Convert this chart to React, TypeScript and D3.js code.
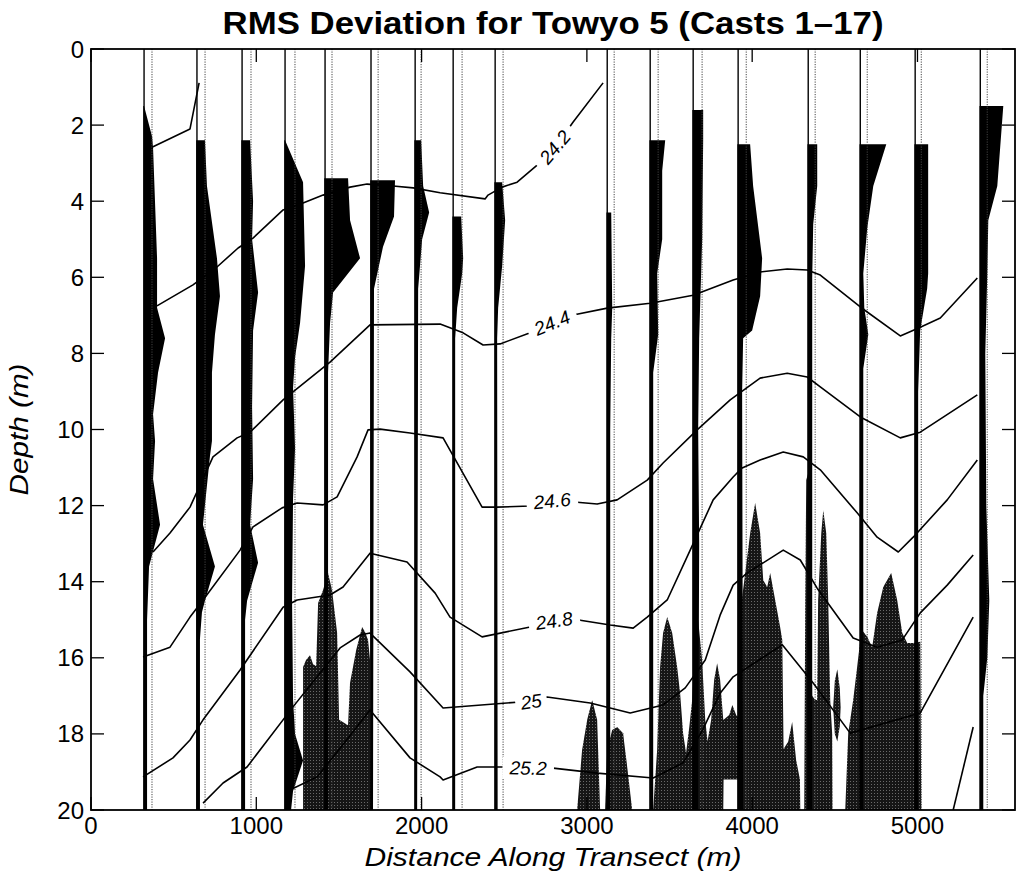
import React from 'react';
import * as d3 from 'd3';

const W = 1016;
const H = 875;

// Cast positions (m): solid baseline of each RMS profile and dotted reference line
const castDist = [321, 641, 914, 1174, 1416, 1694, 1961, 2191, 2445, 3123, 3383, 3643, 3915, 4339, 4654, 4986, 5380];
const refDist = [369, 690, 968, 1234, 1458, 1737, 1997, 2245, 2493, 3165, 3431, 3697, 3964, 4381, 4696, 5023, 5422];

// RMS deviation profiles: [depth (m), rms (arb. units)]
const rmsProfiles: [number, number][][] = [
  [[1.5, 0], [2.3, 8], [2.6, 9], [5.5, 13], [6.8, 13], [7.6, 21], [8.5, 14], [9.6, 9], [10.3, 11], [11.3, 9], [12.5, 16], [13.2, 9], [13.6, 5], [15, 3], [20, 3]],
  [[2.4, 8], [3.6, 10], [5.5, 20], [6.5, 23], [7.5, 18], [8.5, 15], [10.3, 15], [10.7, 13], [12.5, 6], [13.6, 18], [14.5, 8], [14.8, 5], [15.5, 3], [20, 3]],
  [[2.4, 8], [4.0, 11], [5.0, 10], [6.4, 16], [7.4, 11], [9.4, 10], [11.3, 11], [12.5, 8], [13.5, 16], [14.5, 5], [15, 3], [20, 3]],
  [[2.4, 0], [3.5, 18], [5.7, 20], [7.2, 15], [8.1, 10], [8.9, 8], [10.5, 10], [11.8, 8], [14.5, 7], [17.1, 8], [18.0, 10], [18.7, 18], [19.5, 8], [20, 6]],
  [[3.4, 23], [4.5, 25], [5.5, 35], [6.4, 8], [7.2, 5], [8.5, 3], [20, 3]],
  [[3.45, 24], [4.4, 23], [5.2, 12], [6.3, 3], [20, 2]],
  [[2.4, 6], [3.6, 8], [4.3, 14], [5.0, 7], [6.3, 3], [20, 2]],
  [[4.4, 8], [5.5, 10], [5.9, 9], [6.8, 4], [7.6, 2], [20, 2]],
  [[3.5, 7], [4.5, 10], [5.7, 7], [6.8, 3], [7.6, 2], [20, 2.5]],
  [[4.3, 4], [6.8, 5], [7.6, 4], [10, 3], [20, 3]],
  [[2.4, 15], [3.2, 12], [5.0, 12], [5.9, 7], [7.5, 8], [8.5, 3], [20, 3]],
  [[1.6, 10], [2.4, 10], [5, 9], [7.6, 6], [10, 5], [13, 6], [20, 5]],
  [[2.5, 12], [3.6, 15], [5.5, 24], [6.5, 22], [7.4, 14], [7.6, 5], [9, 4], [20, 5]],
  [[2.5, 9], [3.6, 9], [4.6, 5], [6, 4], [20, 4]],
  [[2.5, 26], [3.6, 13], [4.7, 7], [5.9, 3], [6.8, 4], [7.5, 8], [8.4, 3], [20, 3]],
  [[2.5, 13], [5.9, 13], [6.3, 12], [7.4, 5], [9, 3], [20, 3]],
  [[1.5, 23], [3.6, 17], [4.5, 8], [5.9, 7], [8, 5], [12, 6], [14.5, 9], [16, 7], [17, 3], [20, 3]],
];
const rmsUnitMeters = 6.05;

// Large near-bottom deviations (stippled): [distance (m), top depth, bottom depth]
const deepPatch1: [number, number, number][] = [
  [1283, 20, 20], [1283, 16.24, 20], [1301, 16.06, 20], [1325, 15.93, 20], [1343, 16.16, 20], [1362, 16.22, 20],
  [1374, 14.56, 20], [1404, 14.22, 20], [1434, 13.77, 20], [1458, 14.22, 20], [1489, 15.35, 20], [1501, 17.63, 20],
  [1555, 17.77, 20], [1567, 16.66, 20], [1604, 15.8, 20], [1640, 15.19, 20], [1658, 15.32, 20], [1676, 15.53, 20],
  [1688, 16.06, 20], [1694, 20, 20],
];
const deepPatch2: [number, number, number][] = [
  [2941, 20, 20], [2971, 18.42, 20], [3002, 17.63, 20], [3032, 17.11, 20], [3062, 17.63, 20], [3068, 18.42, 20], [3080, 20, 20],
];
const deepPatch3: [number, number, number][] = [
  [3110, 20, 20], [3123, 18.42, 20], [3153, 17.9, 20], [3183, 17.82, 20], [3219, 17.98, 20], [3244, 18.87, 20], [3274, 20, 20],
];
const deepPatch4: [number, number, number][] = [
  [3401, 20, 20], [3425, 18.42, 20], [3443, 16.24, 20], [3461, 15.35, 20], [3486, 14.93, 20], [3516, 15.35, 20],
  [3546, 16.24, 20], [3564, 16.93, 20], [3582, 17.98, 20], [3600, 18.5, 20], [3620, 17.8, 20], [3637, 17.11, 20],
  [3655, 15.53, 20], [3673, 15.0, 20], [3697, 16.06, 20], [3716, 17.63, 20], [3730, 18.2, 20], [3752, 17.63, 20],
  [3770, 16.58, 20], [3788, 16.14, 20], [3806, 16.58, 20], [3825, 17.63, 20], [3827, 17.63, 19.2], [3861, 17.5, 19.2],
  [3880, 17.24, 19.2], [3903, 17.5, 19.2], [3925, 17.6, 19.2], [3927, 14.82, 20], [3958, 13.77, 20], [3988, 12.72, 20],
  [4018, 11.93, 20], [4048, 12.72, 20], [4067, 13.96, 20], [4091, 14.14, 20], [4109, 13.77, 20], [4139, 14.48, 20],
  [4169, 15.19, 20], [4182, 15.53, 20], [4190, 18.4, 20], [4218, 18.2, 20], [4242, 17.69, 20], [4266, 18.69, 20],
  [4289, 19.2, 20], [4291, 20, 20],
];
const deepPatch5: [number, number, number][] = [
  [4315, 20, 20], [4321, 14.48, 20], [4327, 11.33, 20], [4345, 11.06, 20], [4357, 14.48, 20], [4363, 17, 20],
  [4381, 17.11, 20], [4393, 17.11, 20], [4399, 14.48, 20], [4418, 12.72, 20], [4430, 12.12, 20], [4448, 12.72, 20],
  [4460, 14.48, 20], [4472, 17.11, 20], [4484, 18.0, 20], [4486, 20, 20],
];
const deepPatch6: [number, number, number][] = [
  [4490, 17.3, 17.3], [4500, 16.6, 18.0], [4515, 16.3, 18.2], [4530, 16.8, 17.8], [4535, 17.3, 17.3],
];
const deepPatch7: [number, number, number][] = [
  [4563, 20, 20], [4581, 17.98, 20], [4611, 17.11, 20], [4635, 16.24, 20], [4654, 15.53, 20], [4670, 15.3, 20],
  [4696, 15.45, 20], [4726, 15.72, 20], [4756, 14.82, 20], [4793, 14.14, 20], [4841, 13.77, 20], [4877, 14.48, 20],
  [4908, 15.35, 20], [4938, 15.61, 20], [4974, 15.61, 20], [5017, 15.58, 20], [5023, 20, 20],
];
const deepPatches = [deepPatch1, deepPatch2, deepPatch3, deepPatch4, deepPatch5, deepPatch6, deepPatch7];

// Isopycnal contours: [distance (m), depth (m)]
const contour240: [number, number][] = [[369, 2.58], [599, 2.1], [654, 0.89]];
const contour242: [number, number][] = [
  [399, 6.75], [617, 6.2], [762, 5.73], [890, 5.23], [980, 4.97], [1162, 4.23], [1283, 4.05], [1404, 3.84],
  [1567, 3.63], [1670, 3.55], [1828, 3.6], [1949, 3.65], [2112, 3.78], [2384, 3.94], [2402, 3.84], [2487, 3.63],
  [2578, 3.5], [2699, 3.05], [2808, 2.58], [2917, 1.92], [3098, 0.89],
];
const contour244: [number, number][] = [
  [375, 13.22], [478, 12.72], [599, 12.04], [738, 10.72], [884, 10.22], [962, 10.07], [1162, 9.22], [1446, 8.23],
  [1688, 7.25], [2112, 7.23], [2251, 7.46], [2372, 7.78], [2475, 7.75], [2657, 7.46], [2790, 7.2], [2917, 6.99],
  [3123, 6.81], [3383, 6.68], [3643, 6.47], [3885, 6.07], [4048, 5.86], [4212, 5.78], [4333, 5.81], [4412, 5.94],
  [4654, 6.78], [4896, 7.54], [5017, 7.31], [5138, 7.07], [5362, 6.02],
];
const contour246: [number, number][] = [
  [315, 15.98], [478, 15.72], [599, 14.93], [678, 14.48], [902, 13.17], [980, 12.56], [1156, 12.06], [1247, 11.93],
  [1404, 11.98], [1489, 11.77], [1610, 10.72], [1676, 10.01], [1749, 9.99], [1930, 10.09], [2130, 10.22],
  [2366, 12.04], [2457, 12.04], [2657, 12.01], [2790, 11.88], [2941, 11.91], [3062, 11.96], [3183, 11.85],
  [3365, 11.33], [3461, 10.88], [3667, 10.01], [3867, 9.22], [4048, 8.65], [4212, 8.52], [4333, 8.62], [4412, 8.88],
  [4654, 9.67], [4896, 10.22], [5017, 10.07], [5362, 9.09],
];
const contour248: [number, number][] = [
  [315, 19.13], [496, 18.63], [599, 18.16], [678, 17.63], [902, 16.32], [1162, 14.67], [1247, 14.48], [1446, 14.35],
  [1525, 14.14], [1688, 13.25], [1912, 13.48], [2082, 14.3], [2172, 14.93], [2366, 15.45], [2657, 15.19],
  [2802, 15.03], [2941, 15.0], [3141, 15.14], [3280, 15.22], [3365, 14.93], [3486, 14.48], [3625, 13.17],
  [3764, 11.85], [3885, 11.25], [3939, 11.01], [4048, 10.8], [4188, 10.59], [4309, 10.72], [4412, 11.06],
  [4635, 12.19], [4756, 12.83], [4884, 13.22], [4974, 12.83], [5180, 11.85], [5362, 10.8],
];
const contour250: [number, number][] = [
  [678, 19.82], [799, 19.29], [944, 18.87], [1222, 17.29], [1507, 15.74], [1628, 15.4], [1688, 15.35], [1930, 16.37],
  [2130, 17.32], [2596, 17.16], [2663, 17.16], [2759, 17.03], [3020, 17.19], [3262, 17.45], [3461, 17.24],
  [3595, 16.79], [3716, 16.06], [3806, 14.88], [3885, 14.09], [3970, 13.77], [4188, 13.17], [4291, 13.43],
  [4393, 14.17], [4611, 15.48], [4756, 15.72], [4908, 15.53], [5017, 14.82], [5180, 14.09], [5337, 13.3],
];
const contour252: [number, number][] = [
  [1216, 19.45], [1368, 19.13], [1537, 18.21], [1688, 17.37], [1930, 18.63], [2112, 19.13], [2130, 19.21],
  [2336, 18.87], [2517, 18.87], [2645, 18.9], [2796, 18.9], [3062, 19.03], [3401, 19.16], [3582, 18.76],
  [3700, 17.9], [3806, 16.93], [3885, 16.5], [4182, 15.66], [4369, 16.66], [4593, 17.98], [5017, 17.45], [5337, 14.93],
];
const contour254: [number, number][] = [[5216, 20], [5337, 17.82]];
const contours = [contour240, contour242, contour244, contour246, contour248, contour250, contour252, contour254];

const contourLabels: { text: string; line: [number, number][]; dist: number }[] = [
  { text: '24.2', line: contour242, dist: 2808 },
  { text: '24.4', line: contour244, dist: 2790 },
  { text: '24.6', line: contour246, dist: 2790 },
  { text: '24.8', line: contour248, dist: 2802 },
  { text: '25', line: contour250, dist: 2663 },
  { text: '25.2', line: contour252, dist: 2645 },
];

const xTicks = [0, 1000, 2000, 3000, 4000, 5000];
const yTicks = [0, 2, 4, 6, 8, 10, 12, 14, 16, 18, 20];

const FONT = "'Liberation Sans', Arial, Helvetica, sans-serif";

function interp(line: [number, number][], d: number): number {
  for (let i = 0; i < line.length - 1; i++) {
    const [a, da] = line[i];
    const [b, db] = line[i + 1];
    if (d >= a && d <= b) return b === a ? da : da + ((d - a) / (b - a)) * (db - da);
  }
  return line[line.length - 1][1];
}

export default function App() {
  const x = d3.scaleLinear().domain([0, 5590]).range([91, 1015]);
  const y = d3.scaleLinear().domain([0, 20]).range([49, 810]);
  const x0 = x.range()[0], x1 = x.range()[1];
  const y0 = y.range()[0], y1 = y.range()[1];
  const tick = 13;

  const patchArea = d3
    .area<[number, number, number]>()
    .x((d) => x(d[0]))
    .y0((d) => y(d[2]))
    .y1((d) => y(d[1]));

  const lineGen = d3
    .line<[number, number]>()
    .x((d) => x(d[0]))
    .y((d) => y(d[1]));

  return (
    <svg width={W} height={H} style={{ position: 'absolute', left: 0, top: 0, background: '#fff' }}>
      <defs>
        <pattern id="stipple" width="3" height="3" patternUnits="userSpaceOnUse">
          <rect width="3" height="3" fill="#161616" />
          <rect x="1" y="1" width="1" height="1" fill="#6a6a6a" />
        </pattern>
        <clipPath id="plotClip">
          <rect x={x0} y={y0} width={x1 - x0} height={y1 - y0} />
        </clipPath>
      </defs>
      <rect width={W} height={H} fill="#fff" />

      <g clipPath="url(#plotClip)">
        {deepPatches.map((p, i) => (
          <path key={'p' + i} d={patchArea(p) || ''} fill="url(#stipple)" />
        ))}

        {rmsProfiles.map((prof, i) => {
          const c = castDist[i];
          const area = d3
            .area<[number, number]>()
            .y((d) => y(d[0]))
            .x0(() => x(c) - 0.8)
            .x1((d) => x(c + d[1] * rmsUnitMeters));
          return <path key={'r' + i} d={area(prof) || ''} fill="#000" />;
        })}

        {castDist.map((c, i) => (
          <line key={'c' + i} x1={x(c)} x2={x(c)} y1={y0} y2={y1} stroke="#000" strokeWidth={1.4} />
        ))}
        {refDist.map((c, i) => (
          <line key={'d' + i} x1={x(c)} x2={x(c)} y1={y0} y2={y1} stroke="#444" strokeWidth={1} strokeDasharray="1.2 1.3" />
        ))}

        {contours.map((c, i) => (
          <path key={'k' + i} d={lineGen(c) || ''} fill="none" stroke="#000" strokeWidth={1.6} strokeLinejoin="round" />
        ))}

        {contourLabels.map((l, i) => {
          const dep = interp(l.line, l.dist);
          const px = x(l.dist), py = y(dep);
          const ax = x(l.dist - 110), ay = y(interp(l.line, l.dist - 110));
          const bx = x(l.dist + 110), by = y(interp(l.line, l.dist + 110));
          const ang = (Math.atan2(by - ay, bx - ax) * 180) / Math.PI;
          const fs = 19;
          const w = l.text.length * fs * 0.52 + 12;
          return (
            <g key={'l' + i} transform={`translate(${px},${py}) rotate(${ang})`}>
              <rect x={-w / 2} y={-fs * 0.55} width={w} height={fs * 1.1} fill="#fff" />
              <text x={0} y={0} textAnchor="middle" dominantBaseline="central" fontFamily={FONT} fontStyle="italic" fontSize={fs} fill="#000">
                {l.text}
              </text>
            </g>
          );
        })}
      </g>

      {/* axes box */}
      <rect x={x0} y={y0} width={x1 - x0} height={y1 - y0} fill="none" stroke="#000" strokeWidth={1.8} />
      {xTicks.map((t) => (
        <g key={'xt' + t}>
          <line x1={x(t)} x2={x(t)} y1={y1} y2={y1 - tick} stroke="#000" strokeWidth={1.3} />
          <line x1={x(t)} x2={x(t)} y1={y0} y2={y0 + tick} stroke="#000" strokeWidth={1.3} />
          <text x={x(t)} y={834} textAnchor="middle" fontFamily={FONT} fontSize={24} fill="#000">
            {t}
          </text>
        </g>
      ))}
      {yTicks.map((t) => (
        <g key={'yt' + t}>
          <line x1={x0} x2={x0 + tick} y1={y(t)} y2={y(t)} stroke="#000" strokeWidth={1.3} />
          <line x1={x1} x2={x1 - tick} y1={y(t)} y2={y(t)} stroke="#000" strokeWidth={1.3} />
          <text x={x0 - 7} y={y(t)} textAnchor="end" dominantBaseline="central" fontFamily={FONT} fontSize={24} fill="#000">
            {t}
          </text>
        </g>
      ))}

      <text x={(x0 + x1) / 2} y={866} textAnchor="middle" fontFamily={FONT} fontStyle="italic" fontSize={26} textLength={377} lengthAdjust="spacingAndGlyphs" fill="#000">
        Distance Along Transect (m)
      </text>
      <text transform={`translate(28,${(y0 + y1) / 2}) rotate(-90)`} textAnchor="middle" fontFamily={FONT} fontStyle="italic" fontSize={26} textLength={132} lengthAdjust="spacingAndGlyphs" fill="#000">
        Depth (m)
      </text>
      <text x={(x0 + x1) / 2} y={34} textAnchor="middle" fontFamily={FONT} fontWeight="bold" fontSize={31} textLength={661} lengthAdjust="spacingAndGlyphs" fill="#000">
        RMS Deviation for Towyo 5 (Casts 1–17)
      </text>
    </svg>
  );
}
